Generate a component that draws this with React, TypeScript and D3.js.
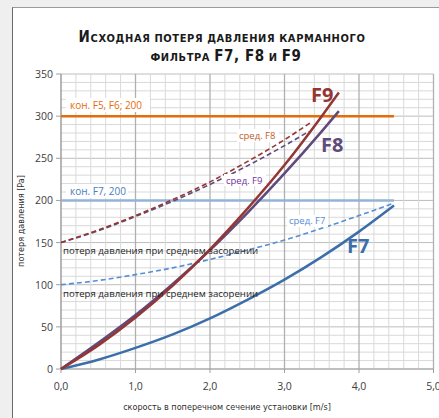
import React from "react";
import * as d3 from "d3";

const W = 439, H = 418;

const xF9 = [0, 0.5, 1, 1.5, 2, 2.5, 3, 3.5, 3.73];
const yF9 = [0, 28, 61, 99, 142, 190, 242, 300, 328];
const xF8 = [0, 0.5, 1, 1.5, 2, 2.5, 3, 3.5, 3.73];
const yF8 = [0, 31, 64, 101, 141, 185, 232, 282, 306];
const xF7 = [0, 0.5, 1, 1.5, 2, 2.5, 3, 3.5, 4, 4.47];
const yF7 = [0, 11, 25, 41, 60, 82, 106, 133, 163, 194];
const xMidF8 = [0, 0.5, 1, 1.5, 2, 2.5, 3, 3.36];
const yMidF8 = [150, 165, 182, 201, 222, 246, 272, 293];
const xMidF9 = [0, 0.5, 1, 1.5, 2, 2.5, 3, 3.33];
const yMidF9 = [150, 164, 181, 199, 219, 241, 265, 282];
const xMidF7 = [0, 0.5, 1, 1.5, 2, 2.5, 3, 3.5, 4, 4.47];
const yMidF7 = [100, 105, 112, 120, 130, 141, 153, 167, 182, 197];
const limitF5F6 = 300;
const limitF7 = 200;
const limitEnd = 4.47;
const xTicks = [0, 1, 2, 3, 4, 5];
const yTicks = [0, 50, 100, 150, 200, 250, 300, 350];

export default function App() {
  const x = d3.scaleLinear().domain([0, 5]).range([61, 433.5]);
  const y = d3.scaleLinear().domain([0, 350]).range([369, 74]);
  const line = d3.line<[number, number]>().x(d => x(d[0])).y(d => y(d[1])).curve(d3.curveMonotoneX);
  const path = (xs: number[], ys: number[]) => line(xs.map((v, i) => [v, ys[i]]) as [number, number][]) || "";
  const minorX = d3.range(0, 5.0001, 0.2);
  const minorY = d3.range(0, 350.001, 10);
  const tickFont = "'Open Sans', sans-serif";
  const condensed = "'DejaVu Sans Condensed', 'DejaVu Sans', sans-serif";

  return (
    <svg width={W} height={H} style={{ position: "absolute", left: 0, top: 0 }}>
      <rect x={0} y={0} width={W} height={H} fill="#efefef" />
      <rect x={12.5} y={7.5} width={W} height={H} fill="#ffffff" stroke="#9a9a9a" />
      <line x1={12.5} y1={7.5} x2={12.5} y2={H} stroke="#6a6a6a" />
      {/* title */}
      <text x={222} y={42} textAnchor="middle" fontFamily={condensed} fontWeight="bold" fill="#1a1a1a" letterSpacing={0.6} fontSize={11}>
        <tspan fontSize={15}>И</tspan>СХОДНАЯ ПОТЕРЯ ДАВЛЕНИЯ КАРМАННОГО
      </text>
      <text x={226} y={61} textAnchor="middle" fontFamily={condensed} fontWeight="bold" fill="#1a1a1a" letterSpacing={0.6} fontSize={11}>
        ФИЛЬТРА <tspan fontSize={15}>F7, F8</tspan> И <tspan fontSize={15}>F9</tspan>
      </text>
      {/* grid */}
      {minorY.map(v => (
        <line key={"gy" + v} x1={x(0)} x2={x(5)} y1={y(v)} y2={y(v)} stroke={v % 50 === 0 ? "#bdbdbd" : "#d9d9d9"} strokeWidth={1} />
      ))}
      {minorX.map(v => (
        <line key={"gx" + v} x1={x(v)} x2={x(v)} y1={y(0)} y2={y(350)} stroke={Math.abs(v - Math.round(v)) < 1e-6 ? "#b0b0b0" : "#d9d9d9"} strokeWidth={Math.abs(v - Math.round(v)) < 1e-6 ? 1.3 : 1} />
      ))}
      {/* axes */}
      <line x1={x(0)} x2={x(0)} y1={y(0)} y2={y(350)} stroke="#a0a0a0" />
      <line x1={x(0)} x2={x(5)} y1={y(0)} y2={y(0)} stroke="#a0a0a0" />
      {yTicks.map(v => (
        <g key={"yt" + v}>
          <line x1={x(0) - 5} x2={x(0)} y1={y(v)} y2={y(v)} stroke="#a0a0a0" />
          <text x={x(0) - 8} y={y(v) + 4} textAnchor="end" fontFamily={tickFont} fontSize={10.5} fill="#404040">{v}</text>
        </g>
      ))}
      {xTicks.map(v => (
        <g key={"xt" + v}>
          <line x1={x(v)} x2={x(v)} y1={y(0)} y2={y(0) + 4} stroke="#a0a0a0" />
          <text x={x(v)} y={390} textAnchor="middle" fontFamily={tickFont} fontSize={10.5} fill="#404040">{v.toFixed(1).replace(".", ",")}</text>
        </g>
      ))}
      <text x={227} y={410} textAnchor="middle" fontFamily={condensed} fontSize={9} fill="#303030">скорость в поперечном сечение установки [m/s]</text>
      <text transform={`translate(24,${221}) rotate(-90)`} textAnchor="middle" fontFamily={condensed} fontSize={9} fill="#303030">потеря давления [Pa]</text>
      {/* horizontal limits */}
      <line x1={x(0)} x2={x(limitEnd)} y1={y(limitF5F6)} y2={y(limitF5F6)} stroke="#E46C0A" strokeWidth={2.5} />
      <line x1={x(0)} x2={x(limitEnd)} y1={y(limitF7)} y2={y(limitF7)} stroke="#95B3D7" strokeWidth={2.5} />
      {/* dashed */}
      <path d={path(xMidF7, yMidF7)} fill="none" stroke="#558ED5" strokeWidth={1.6} strokeDasharray="5,3" />
      <path d={path(xMidF9, yMidF9)} fill="none" stroke="#604A7B" strokeWidth={1.6} strokeDasharray="5,3" />
      <path d={path(xMidF8, yMidF8)} fill="none" stroke="#943634" strokeWidth={1.6} strokeDasharray="5,3" />
      {/* solid */}
      <path d={path(xF7, yF7)} fill="none" stroke="#3C6EAA" strokeWidth={2.5} />
      <path d={path(xF8, yF8)} fill="none" stroke="#604A7B" strokeWidth={2.5} />
      <path d={path(xF9, yF9)} fill="none" stroke="#943634" strokeWidth={2.5} />
      {/* labels */}
      <rect x={66} y={98} width={84} height={14} fill="#fff" />
      <text x={70} y={109} fontFamily={tickFont} fontSize={10} fill="#E46C0A">кон. F5, F6; 200</text>
      <rect x={66} y={184} width={62} height={14} fill="#fff" />
      <text x={70} y={195} fontFamily={tickFont} fontSize={10} fill="#4A7EBB">кон. F7, 200</text>
      <rect x={237} y={129} width={42} height={13} fill="#fff" />
      <text x={239} y={139} fontFamily={tickFont} fontSize={9.5} fill="#C0602A">сред. F8</text>
      <rect x={224} y={174} width={42} height={12} fill="#fff" />
      <text x={226} y={184} fontFamily={tickFont} fontSize={9.5} fill="#7030A0">сред. F9</text>
      <rect x={287} y={215} width={41} height={12} fill="#fff" />
      <text x={289} y={224} fontFamily={tickFont} fontSize={9.5} fill="#558ED5">сред. F7</text>
      <text x={63} y={254} fontFamily={tickFont} fontSize={9.6} fill="#262626">потеря давления при среднем засорении</text>
      <text x={63} y={297} fontFamily={tickFont} fontSize={9.6} fill="#262626">потеря давления при среднем засорении</text>
      <text x={311} y={102} fontFamily={tickFont} fontWeight="bold" fontSize={20} fill="#943634">F9</text>
      <text x={321} y={152} fontFamily={tickFont} fontWeight="bold" fontSize={20} fill="#604A7B">F8</text>
      <text x={347} y={253} fontFamily={tickFont} fontWeight="bold" fontSize={20} fill="#3C6EAA">F7</text>
    </svg>
  );
}
